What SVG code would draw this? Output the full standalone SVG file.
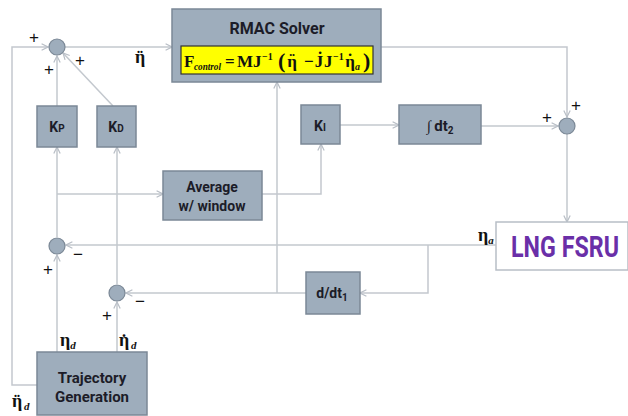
<svg xmlns="http://www.w3.org/2000/svg" width="628" height="416" viewBox="0 0 628 416">
<style>
.c{fill:none;stroke:#c3c8ce;stroke-width:1.5}
.b{fill:#9eadbc;stroke:#7b8896;stroke-width:1.5}
.s{fill:#9eadbc;stroke:#7b8896;stroke-width:1.2}
.t{font-family:Roboto,"Liberation Sans",sans-serif;font-weight:bold;fill:#1c1c28;text-anchor:middle}
.m{font-family:"Liberation Serif",serif;font-weight:bold;fill:#111}
.k{font-family:"Liberation Serif",serif;font-weight:bold;fill:#111;text-anchor:middle}
.p{font-family:"Liberation Sans",sans-serif;font-size:17px;fill:#111;text-anchor:middle}
</style>
<defs>
<marker id="a" viewBox="0 0 10 10" refX="9" refY="5" markerWidth="8" markerHeight="8" orient="auto" markerUnits="userSpaceOnUse">
<path d="M1,1 L9,5 L1,9" fill="none" stroke="#b8bec6" stroke-width="1.5"/>
</marker>
</defs>
<rect width="628" height="416" fill="#fff"/>
<g id="connectors">
<path class="c" d="M37,385 H12 V47 H48" marker-end="url(#a)"/>
<path class="c" d="M65,47 H172" marker-end="url(#a)"/>
<path class="c" d="M57,106 V56" marker-end="url(#a)"/>
<path class="c" d="M113,106 L63,53" marker-end="url(#a)"/>
<path class="c" d="M381,47 H567 V117" marker-end="url(#a)"/>
<path class="c" d="M340,125 H399" marker-end="url(#a)"/>
<path class="c" d="M481,126 H558" marker-end="url(#a)"/>
<path class="c" d="M567,134 V222" marker-end="url(#a)"/>
<path class="c" d="M496,245 H66" marker-end="url(#a)"/>
<path class="c" d="M428,245 V293 H360" marker-end="url(#a)"/>
<path class="c" d="M306,293 H126" marker-end="url(#a)"/>
<path class="c" d="M277,293 V82" marker-end="url(#a)"/>
<path class="c" d="M57,352 V255" marker-end="url(#a)"/>
<path class="c" d="M57,237 V147" marker-end="url(#a)"/>
<path class="c" d="M57,194 H163" marker-end="url(#a)"/>
<path class="c" d="M262,194 H321 V144" marker-end="url(#a)"/>
<path class="c" d="M117,352 V302" marker-end="url(#a)"/>
<path class="c" d="M117,284 V147" marker-end="url(#a)"/>
</g>
<g id="rmac">
<rect class="b" x="172" y="9" width="209" height="73"/>
<text class="t" x="277" y="34" font-size="16">RMAC Solver</text>
<rect x="181" y="46" width="192" height="28" fill="#ffff00" stroke="#333" stroke-width="1.2"/>
<text class="m" x="184" y="67" font-size="17">F</text>
<text class="m" x="194" y="70" font-size="10" font-style="italic" textLength="27" lengthAdjust="spacingAndGlyphs">control</text>
<text class="m" x="225" y="67" font-size="17">=</text>
<text class="m" x="237" y="67" font-size="17">M</text>
<text class="m" x="253" y="67" font-size="17">J</text>
<text class="m" x="262" y="60" font-size="10">−1</text>
<text class="m" x="278" y="68" font-size="22" font-weight="normal">(</text>
<text class="k" x="292" y="67" font-size="17">η</text>
<text class="k" x="292" y="65" font-size="17">¨</text>
<text class="m" x="304" y="67" font-size="17">−</text>
<text class="k" x="319" y="67" font-size="17">J</text>
<text class="k" x="320" y="63" font-size="17">˙</text>
<text class="m" x="324" y="67" font-size="17">J</text>
<text class="m" x="333" y="60" font-size="10">−1</text>
<text class="k" x="350" y="67" font-size="17">η</text>
<text class="k" x="350" y="65" font-size="17">˙</text>
<text class="m" x="355" y="70" font-size="10" font-style="italic">a</text>
<text class="m" x="363" y="68" font-size="22" font-weight="normal">)</text>
</g>
<g id="sum1"><circle class="s" cx="57" cy="47" r="8"/></g>
<g id="sum2"><circle class="s" cx="567" cy="126" r="8"/></g>
<g id="sum3"><circle class="s" cx="57" cy="246" r="8"/></g>
<g id="sum4"><circle class="s" cx="117" cy="293" r="8"/></g>
<g id="kp"><rect class="b" x="37" y="106" width="40" height="41"/><text class="t" x="57" y="132" font-size="14">K<tspan font-size="10">P</tspan></text></g>
<g id="kd"><rect class="b" x="97" y="106" width="39" height="41"/><text class="t" x="116" y="132" font-size="14">K<tspan font-size="10">D</tspan></text></g>
<g id="ki"><rect class="b" x="301" y="105" width="39" height="39"/><text class="t" x="320" y="131" font-size="14">K<tspan font-size="10">I</tspan></text></g>
<g id="int"><rect class="b" x="399" y="105" width="82" height="39"/><text class="t" x="440" y="131" font-size="15"><tspan font-style="italic" font-family="Liberation Serif,serif">∫</tspan> dt<tspan font-size="10" dy="3">2</tspan></text></g>
<g id="avg"><rect class="b" x="163" y="171" width="99" height="49"/><text class="t" x="212" y="192" font-size="14">Average</text><text class="t" x="212" y="211" font-size="14">w/ window</text></g>
<g id="ddt"><rect class="b" x="306" y="272" width="54" height="42"/><text class="t" x="332" y="298" font-size="14">d/dt<tspan font-size="10" dy="3">1</tspan></text></g>
<g id="traj"><rect class="b" x="37" y="352" width="110" height="63"/><text class="t" x="92" y="383" font-size="15">Trajectory</text><text class="t" x="92" y="402" font-size="15">Generation</text></g>
<g id="lng"><rect x="496" y="222" width="132" height="48" fill="#fff" stroke="#b8bec6" stroke-width="1.5"/><text transform="translate(511,257) scale(1,1.2)" x="0" y="0" font-family="Roboto,'Liberation Sans',sans-serif" font-weight="bold" font-size="24" fill="#6a2fa8" textLength="108" lengthAdjust="spacingAndGlyphs">LNG FSRU</text></g>
<g id="labels">
<text class="p" x="34" y="43">+</text>
<text class="p" x="49" y="75">+</text>
<text class="p" x="80" y="66">+</text>
<text class="k" x="140" y="63" font-size="18">η</text>
<text class="k" x="140" y="64" font-size="18">¨</text>
<text class="p" x="547" y="123">+</text>
<text class="p" x="576" y="111">+</text>
<text class="m" x="478" y="241" font-size="18">η<tspan font-size="11" font-style="italic" dy="3">a</tspan></text>
<text class="p" x="78" y="260">−</text>
<text class="p" x="48" y="275">+</text>
<text class="p" x="140" y="307">−</text>
<text class="p" x="107" y="321">+</text>
<text class="m" x="60" y="346" font-size="18">η<tspan font-size="11" font-style="italic" dy="3">d</tspan></text>
<text class="k" x="124" y="346" font-size="18">η</text>
<text class="k" x="124" y="347" font-size="18">˙</text>
<text class="m" x="131" y="349" font-size="11" font-style="italic">d</text>
<text class="k" x="17" y="407" font-size="18">η</text>
<text class="k" x="17" y="408" font-size="18">¨</text>
<text class="m" x="24" y="410" font-size="11" font-style="italic">d</text>
</g>
</svg>
